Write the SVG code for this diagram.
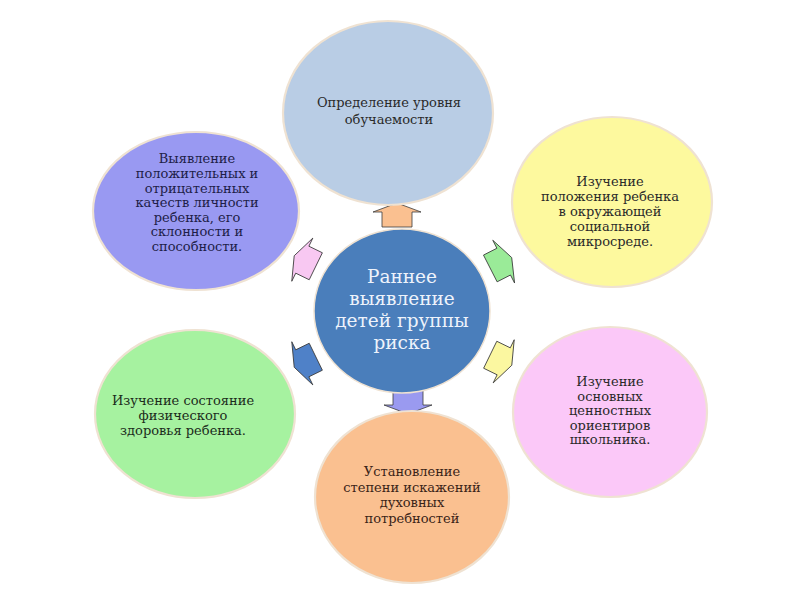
<svg xmlns="http://www.w3.org/2000/svg" width="800" height="600" viewBox="0 0 800 600">
<defs>
<style>
.c{stroke:#efe2d2;stroke-width:2.2}
.t{font-family:'DejaVu Serif','Liberation Serif',serif;font-size:13px;fill:#2a2a2a;text-anchor:middle}
.ct{font-family:'DejaVu Serif','Liberation Serif',serif;font-size:18.5px;fill:#eef3fb;text-anchor:middle}
.a{stroke:#3a3a3a;stroke-width:0.8;stroke-linejoin:miter}
</style>
<polygon id="arr" points="0,-12 24,-3 15,-3 15,12 -15,12 -15,-3 -24,-3"/>
</defs>
<rect width="800" height="600" fill="#ffffff"/>

<g id="connectors">
<use href="#arr" class="a" fill="#fac090" transform="translate(397,215)"/>
<use href="#arr" class="a" fill="#9a9af0" stroke="none" transform="translate(408,402) rotate(180)"/>
<use href="#arr" class="a" fill="#f8c8f2" transform="translate(305,261) rotate(-64)"/>
<use href="#arr" class="a" fill="#9aeb98" transform="translate(501,263) rotate(63)"/>
<use href="#arr" class="a" fill="#4f81c8" stroke="none" transform="translate(305,362) rotate(-116)"/>
<use href="#arr" class="a" fill="#fbf7a0" transform="translate(501,360) rotate(116)"/>
</g>

<g id="n-top">
<ellipse class="c" cx="388" cy="113" rx="105" ry="92" fill="#b9cde5"/>
<text class="t" x="389" y="107">Определение уровня</text>
<text class="t" x="389" y="124">обучаемости</text>
</g>

<g id="n-topleft">
<ellipse class="c" cx="196" cy="211" rx="103" ry="79" fill="#9999f2"/>
<text class="t" x="197" y="163" style="fill:#1e1e48">Выявление</text>
<text class="t" x="197" y="178" style="fill:#1e1e48">положительных и</text>
<text class="t" x="197" y="192.5" style="fill:#1e1e48">отрицательных</text>
<text class="t" x="197" y="207" style="fill:#1e1e48">качеств личности</text>
<text class="t" x="197" y="221.5" style="fill:#1e1e48">ребенка, его</text>
<text class="t" x="197" y="236" style="fill:#1e1e48">склонности и</text>
<text class="t" x="197" y="250.5" style="fill:#1e1e48">способности.</text>
</g>

<g id="n-topright">
<ellipse class="c" cx="612" cy="202" rx="100" ry="85" fill="#fdf99e"/>
<text class="t" x="610" y="186">Изучение</text>
<text class="t" x="610" y="201">положения ребенка</text>
<text class="t" x="610" y="216">в окружающей</text>
<text class="t" x="610" y="231">социальной</text>
<text class="t" x="610" y="246">микросреде.</text>
</g>

<g id="n-botleft">
<ellipse class="c" cx="195" cy="414" rx="100" ry="84" fill="#a6f2a0"/>
<text class="t" x="183" y="405" style="fill:#1c2c1c">Изучение  состояние</text>
<text class="t" x="183" y="420" style="fill:#1c2c1c">физического</text>
<text class="t" x="183" y="435" style="fill:#1c2c1c">здоровья ребенка.</text>
</g>

<g id="n-botright">
<ellipse class="c" cx="610" cy="412" rx="97" ry="85" fill="#fbc8f8"/>
<text class="t" x="610" y="386">Изучение</text>
<text class="t" x="610" y="400.5">основных</text>
<text class="t" x="610" y="415">ценностных</text>
<text class="t" x="610" y="429.5">ориентиров</text>
<text class="t" x="610" y="444">школьника.</text>
</g>

<g id="n-bottom">
<ellipse class="c" cx="412" cy="497" rx="97" ry="86" fill="#fac090"/>
<text class="t" x="412" y="476" style="fill:#3a2418">Установление</text>
<text class="t" x="412" y="492" style="fill:#3a2418">степени искажений</text>
<text class="t" x="412" y="507" style="fill:#3a2418">духовных</text>
<text class="t" x="412" y="523" style="fill:#3a2418">потребностей</text>
</g>

<g id="n-center">
<ellipse cx="402" cy="311" rx="88" ry="82" fill="#4a7ebb" stroke="#efe2d2" stroke-width="1.5"/>
<text class="ct" x="402" y="283">Раннее</text>
<text class="ct" x="402" y="305">выявление</text>
<text class="ct" x="402" y="327">детей группы</text>
<text class="ct" x="402" y="349">риска</text>
</g>
</svg>
